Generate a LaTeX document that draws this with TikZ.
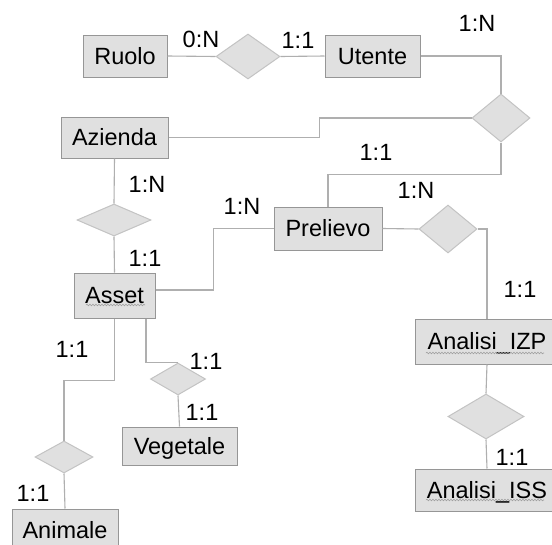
\documentclass[tikz,border=0pt]{standalone}
\usepackage{fontspec}
\setmainfont{Liberation Sans}
\usetikzlibrary{shapes.geometric,decorations.pathmorphing}
\definecolor{boxfill}{RGB}{224,224,224}
\definecolor{boxline}{RGB}{150,150,150}
\definecolor{conn}{RGB}{175,175,175}
\definecolor{diafill}{RGB}{224,224,224}
\definecolor{dialine}{RGB}{195,195,195}
\definecolor{squig}{RGB}{160,160,160}
\tikzset{
  every node/.style={font=\fontsize{23.5pt}{28pt}\selectfont, text height=16.8pt, text depth=0pt},
  entity/.style={draw=boxline, fill=boxfill, line width=1pt, inner sep=0pt},
  rel/.style={shape=diamond, draw=dialine, fill=diafill, line width=1pt, inner sep=0pt},
  card/.style={inner sep=0pt},
  link/.style={draw=conn, line width=1.1pt},
  spell/.style={draw=squig, line width=0.6pt, decorate, decoration={snake, segment length=3pt, amplitude=0.8pt}}
}
\begin{document}
\begin{tikzpicture}[x=1pt,y=-1pt]
\useasboundingbox (0,0) rectangle (552,544);
\clip (0,0) rectangle (552,544);
\fill[white] (0,0) rectangle (552,544);
% entities
\node[entity, minimum width=84pt, minimum height=42pt] (ruolo) at (125,56) {Ruolo};
\node[entity, minimum width=95pt, minimum height=42pt] (utente) at (372.5,56) {Utente};
\node[entity, minimum width=107pt, minimum height=41pt] (azienda) at (114.5,137.5) {Azienda};
\node[entity, minimum width=108pt, minimum height=43pt] (prelievo) at (328,228.5) {Prelievo};
\node[entity, minimum width=81pt, minimum height=45pt] (asset) at (114.5,295.5) {Asset};
\node[entity, minimum width=115pt, minimum height=38pt] (vegetale) at (179.5,446) {Vegetale};
\node[entity, minimum width=106pt, minimum height=42pt] (animale) at (65,530) {Animale};
\node[entity, minimum width=144pt, minimum height=45pt] (izp) at (487,341.5) {Analisi\_IZP};
\node[entity, minimum width=144pt, minimum height=42pt] (iss) at (487,490) {Analisi\_ISS};
% relationships
\node[rel, minimum width=64pt, minimum height=45pt] (d1) at (248,56.5) {};
\node[rel, minimum width=58pt, minimum height=48pt] (d2) at (501,118) {};
\node[rel, minimum width=74pt, minimum height=32pt] (d3) at (114,220) {};
\node[rel, minimum width=58pt, minimum height=48pt] (d4) at (448,229) {};
\node[rel, minimum width=58pt, minimum height=32pt] (d5) at (64,457) {};
\node[rel, minimum width=55pt, minimum height=32pt] (d6) at (178,379) {};
\node[rel, minimum width=76pt, minimum height=45pt] (d7) at (486,416.5) {};
% connectors
\draw[link] (ruolo.east) -- (d1.west);
\draw[link] (d1.east) -- (utente.west);
\draw[link] (utente.east) -| (d2.north);
\draw[link] (d2.west) -- ++(-152,0) |- (azienda.east);
\draw[link] (d2.south) -- ++(0,32) -| (prelievo.north);
\draw[link] (azienda.south) -- (d3.north);
\draw[link] (d3.south) -- (asset.north);
\draw[link] ([yshift=5.5pt]asset.east) -- ++(58,0) |- (prelievo.west);
\draw[link] (prelievo.east) -- (d4.west);
\draw[link] (d4.east) -| (izp.north);
\draw[link] (izp.south) -- (d7.north);
\draw[link] (d7.south) -- (iss.north);
\draw[link] (asset.south) -- ++(0,62) -| (d5.north);
\draw[link] (d5.south) -- (animale.north);
\draw[link] ([xshift=31.5pt]asset.south) |- (d6.north);
\draw[link] (d6.south) -- (vegetale.north);
% spell-check squiggles
\draw[spell] (86,305) -- (145,305);
\draw[spell] (426,353) -- (544,353);
\draw[spell] (426,500) -- (544,500);
% cardinalities
\node[card] (c1) at (201,39) {0:N};
\node[card] (c2) at (298,40) {1:1};
\node[card] (c3) at (477,23) {1:N};
\node[card] (c4) at (376,152) {1:1};
\node[card] (c5) at (416,190) {1:N};
\node[card] (c6) at (147,184) {1:N};
\node[card] (c7) at (242,206) {1:N};
\node[card] (c8) at (145,258) {1:1};
\node[card] (c9) at (520,289) {1:1};
\node[card] (c10) at (72,349) {1:1};
\node[card] (c11) at (206,361) {1:1};
\node[card] (c12) at (202,412) {1:1};
\node[card] (c13) at (33,493) {1:1};
\node[card] (c14) at (512,457) {1:1};
\end{tikzpicture}
\end{document}
